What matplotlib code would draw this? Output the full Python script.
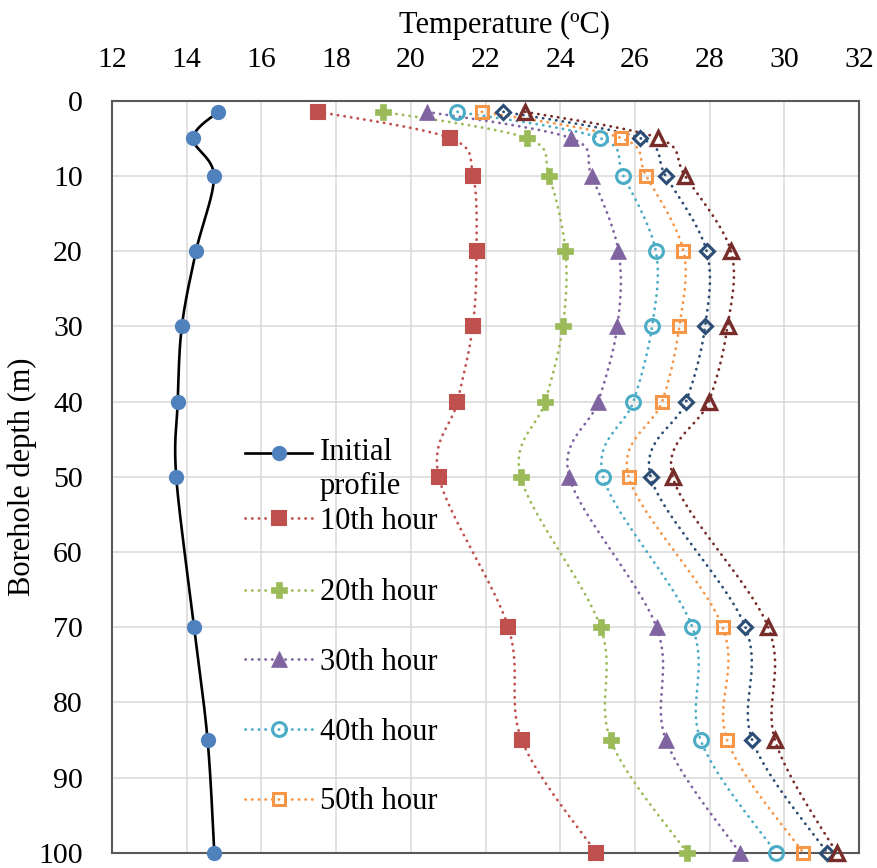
import numpy as np
import matplotlib
matplotlib.use("Agg")
import matplotlib.pyplot as plt
from matplotlib.lines import Line2D
from matplotlib.legend_handler import HandlerLine2D

plt.rcParams["font.family"] = ["Liberation Serif", "DejaVu Serif"]

# borehole depths (m) and temperatures (degC) for each profile
depth = [1.5, 5, 10, 20, 30, 40, 50, 70, 85, 100]
initial = [14.84, 14.17, 14.73, 14.25, 13.87, 13.76, 13.72, 14.20, 14.56, 14.74]
hour10 = [17.52, 21.05, 21.67, 21.76, 21.66, 21.25, 20.75, 22.61, 22.97, 24.97]
hour20 = [19.26, 23.10, 23.70, 24.14, 24.07, 23.60, 22.94, 25.08, 25.35, 27.40]
hour30 = [20.43, 24.28, 24.84, 25.56, 25.53, 25.02, 24.24, 26.58, 26.83, 28.81]
hour40 = [21.25, 25.07, 25.69, 26.56, 26.46, 25.96, 25.15, 27.54, 27.76, 29.78]
hour50 = [21.90, 25.64, 26.30, 27.30, 27.19, 26.73, 25.83, 28.35, 28.47, 30.51]
hour60 = [22.48, 26.14, 26.82, 27.92, 27.88, 27.37, 26.42, 28.96, 29.14, 31.15]
hour70 = [23.06, 26.63, 27.34, 28.57, 28.48, 27.98, 27.01, 29.57, 29.75, 31.40]

labels = ["Initial\nprofile", "10th hour", "20th hour", "30th hour",
          "40th hour", "50th hour", None, None]

DOT = (0, (0.1, 2.3))
styles = [
    dict(color="black", ls="-", lw=1.9, marker="o", ms=11, mfc="#4f81bd", mec="#4f81bd", mew=0),
    dict(color="#c0504d", ls=DOT, lw=2.0, marker="s", ms=10, mfc="#c0504d", mec="#c0504d", mew=1.5),
    dict(color="#9bbb59", ls=DOT, lw=2.0, marker="P", ms=12, mfc="#9bbb59", mec="#9bbb59", mew=0.5),
    dict(color="#8064a2", ls=DOT, lw=2.0, marker="^", ms=12, mfc="#8064a2", mec="#8064a2", mew=0.5),
    dict(color="#4bacc6", ls=DOT, lw=2.0, marker="o", ms=10, mfc="none", mec="#4bacc6", mew=2.2),
    dict(color="#f79646", ls=DOT, lw=2.0, marker="s", ms=9, mfc="none", mec="#f79646", mew=2.2),
    dict(color="#2c4d75", ls=DOT, lw=2.0, marker="D", ms=7.5, mfc="none", mec="#2c4d75", mew=2.2),
    dict(color="#772c2a", ls=DOT, lw=2.0, marker="^", ms=10.5, mfc="none", mec="#772c2a", mew=2.4),
]
series = [initial, hour10, hour20, hour30, hour40, hour50, hour60, hour70]


def smooth(x, y, n=24):
    # cubic bezier through the points, control points like a spreadsheet's smoothed line
    pts = np.column_stack([x, y]).astype(float)
    out = [pts[0]]
    t = np.linspace(0, 1, n)[1:, None]
    for i in range(len(pts) - 1):
        p0 = pts[max(i - 1, 0)]
        p1, p2 = pts[i], pts[i + 1]
        p3 = pts[min(i + 2, len(pts) - 1)]
        c1 = p1 + (p2 - p0) / 6
        c2 = p2 - (p3 - p1) / 6
        seg = (1 - t) ** 3 * p1 + 3 * (1 - t) ** 2 * t * c1 + 3 * (1 - t) * t ** 2 * c2 + t ** 3 * p2
        out.extend(seg)
    out = np.array(out)
    return out[:, 0], out[:, 1]


fig = plt.figure(figsize=(8.77, 8.68), dpi=100)
ax = fig.add_axes([0.1277, 0.0173, 0.8518, 0.8669])

handles = []
for temps, st in zip(series, styles):
    sx, sy = smooth(temps, depth)
    ax.plot(sx, sy, color=st["color"], ls=st["ls"], lw=st["lw"],
            dash_capstyle="round", solid_capstyle="round")
    ax.plot(temps, depth, ls="none", marker=st["marker"], ms=st["ms"],
            mfc=st["mfc"], mec=st["mec"], mew=st["mew"], clip_on=False, zorder=3)
    handles.append(Line2D([], [], color=st["color"], ls=st["ls"], lw=st["lw"],
                          dash_capstyle="round", marker=st["marker"], ms=st["ms"],
                          mfc=st["mfc"], mec=st["mec"], mew=st["mew"]))

ax.set_xlim(12, 32)
ax.set_ylim(100, 0)
ax.set_xticks(np.arange(12, 33, 2))
ax.set_yticks(np.arange(0, 101, 10))
ax.xaxis.tick_top()
ax.xaxis.set_label_position("top")
ax.tick_params(axis="x", length=0, pad=20, labelsize=21.5)
ax.tick_params(axis="y", length=0, pad=21, labelsize=21.5)
ax.set_xlabel("Temperature (\u00baC)", fontsize=22)
ax.xaxis.set_label_coords(0.525, 1.09)
ax.set_ylabel("Borehole depth (m)", fontsize=22)
ax.yaxis.set_label_coords(-0.1, 0.5)
ax.grid(True, color="#d9d9d9", lw=1.1)
ax.set_axisbelow(True)
for sp in ax.spines.values():
    sp.set_color("#595959")
    sp.set_linewidth(1.5)


class FirstLineHandler(HandlerLine2D):
    # put the handle level with the first line of a two-line label
    def __init__(self, shift, **kw):
        super().__init__(**kw)
        self.shift = shift

    def create_artists(self, *args, **kwargs):
        artists = super().create_artists(*args, **kwargs)
        for a in artists:
            a.set_ydata(np.asarray(a.get_ydata()) + self.shift)
        return artists


leg_kw = dict(frameon=False, fontsize=22, handlelength=2.2, handletextpad=0.25,
              borderpad=0, borderaxespad=0, numpoints=1, loc="upper left")
leg1 = ax.legend(handles[:2], labels[:2], bbox_to_anchor=(0.178, 0.551),
                 labelspacing=0.2, handler_map={handles[0]: FirstLineHandler(12.5)},
                 **leg_kw)
ax.add_artist(leg1)
ax.legend(handles[2:6], labels[2:6], bbox_to_anchor=(0.178, 0.365),
          labelspacing=1.33, **leg_kw)

fig.savefig("out.png", dpi=100, facecolor="white")
